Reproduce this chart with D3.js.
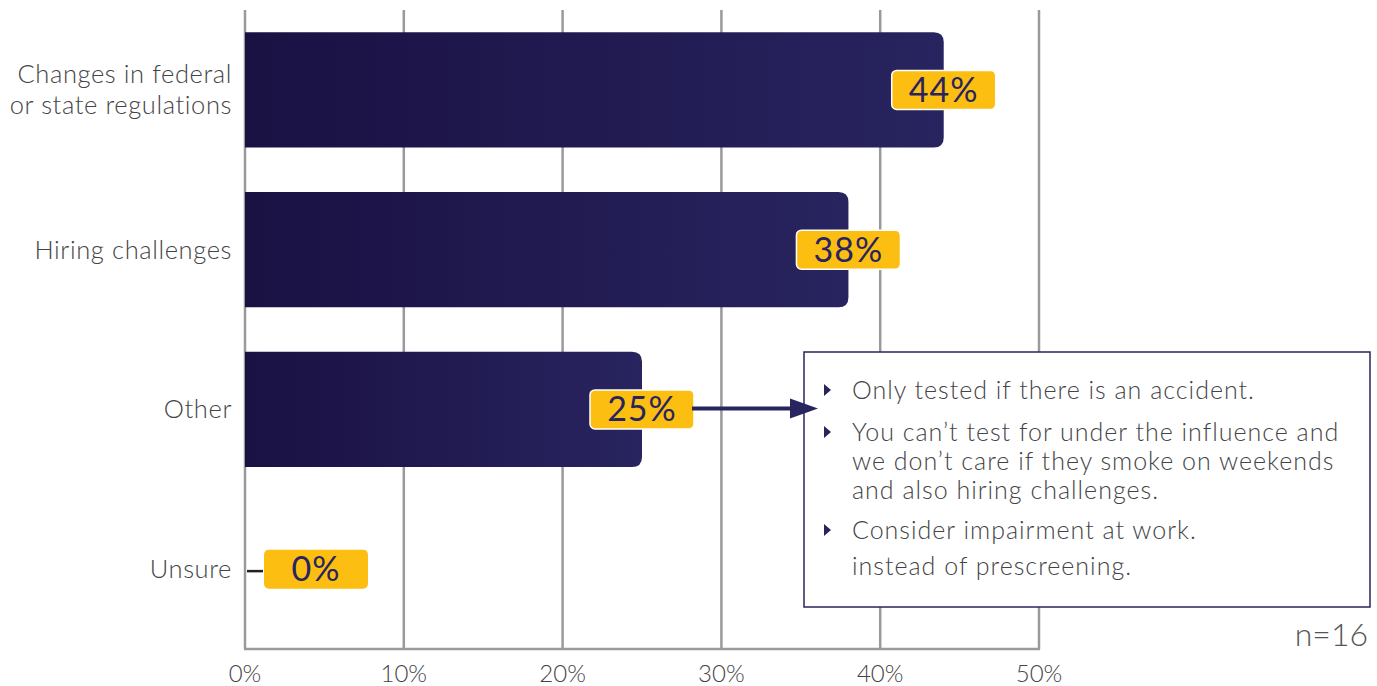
<!DOCTYPE html>
<html><head><meta charset="utf-8">
<script src="https://cdn.jsdelivr.net/npm/d3@7"></script>
<style>body{margin:0;background:#fff}svg{display:block}text{font-family:Lato,"Open Sans",sans-serif}</style>
</head><body>
<svg id="c" width="1377" height="686"></svg>
<script>
const categories = [["Changes in federal","or state regulations"],["Hiring challenges"],["Other"],["Unsure"]];
const values = [44, 38, 25, 0];
const ticks = [0,10,20,30,40,50];
const notes = [
  {bullet:true, lines:["Only tested if there is an accident."]},
  {bullet:true, lines:["You can\u2019t test for under the influence and","we don\u2019t care if they smoke on weekends","and also hiring challenges."]},
  {bullet:true, lines:["Consider impairment at work."]},
  {bullet:false, lines:["instead of prescreening."]}
];
const nText = "n=16";

const svg = d3.select("#c");
const x = d3.scaleLinear().domain([0,50]).range([245,1039]);
const y = d3.scaleBand().domain(d3.range(categories.length)).range([10,649]).paddingInner(0.28).paddingOuter(0.14);

const defs = svg.append("defs");
const g = defs.append("linearGradient").attr("id","bg").attr("x1","0").attr("x2","1");
g.append("stop").attr("offset","0").attr("stop-color","#1a1143");
g.append("stop").attr("offset","1").attr("stop-color","#28245f");

// grid
svg.append("g").selectAll("line").data(ticks).join("line")
  .attr("x1",d=>x(d)).attr("x2",d=>x(d)).attr("y1",10).attr("y2",649)
  .attr("stroke","#9a9a9c").attr("stroke-width",2.5);
svg.append("line").attr("x1",x(0)-1).attr("x2",x(50)+1).attr("y1",649).attr("y2",649)
  .attr("stroke","#9a9a9c").attr("stroke-width",2.5);

// tick labels
svg.append("g").selectAll("text").data(ticks).join("text")
  .attr("x",d=>x(d)).attr("y",682).attr("text-anchor","middle")
  .attr("font-size",24).attr("font-weight",300).attr("fill","#444446").text(d=>d+"%");

// bars
const r = 10;
function barPath(x0,x1,y0,h){
  const w = x1-x0; const rr=Math.min(r,w);
  return `M${x0},${y0}H${x1-rr}Q${x1},${y0} ${x1},${y0+rr}V${y0+h-rr}Q${x1},${y0+h} ${x1-rr},${y0+h}H${x0}Z`;
}
svg.append("g").selectAll("path").data(values.filter(v=>v>0)).join("path")
  .attr("d",(d,i)=>barPath(x(0),x(d),y(i),y.bandwidth()))
  .attr("fill","url(#bg)");

// category labels
categories.forEach((c,i)=>{
  const cy = y(i)+y.bandwidth()/2;
  const lh = 31;
  const t = svg.append("text").attr("text-anchor","end").attr("font-size",25.5).attr("font-weight",300).attr("letter-spacing",0.6).attr("fill","#444446");
  c.forEach((l,j)=>{
    t.append("tspan").attr("x",232).attr("y",cy+(j-(c.length-1)/2)*lh+9).text(l);
  });
});

// value labels
const bw=104, bh=39;
values.forEach((v,i)=>{
  const cy = y(i)+y.bandwidth()/2;
  let cx = x(v);
  if (v===0){
    cx = x(0)+19+bw/2;
    svg.append("line").attr("x1",x(0)+2).attr("x2",x(0)+18).attr("y1",cy+2).attr("y2",cy+2).attr("stroke","#222").attr("stroke-width",2.5);
  }
  svg.append("rect").attr("x",cx-bw/2).attr("y",cy-bh/2).attr("width",bw).attr("height",bh)
    .attr("rx",5).attr("fill","#fdbe12").attr("stroke",v===0?"none":"#fff").attr("stroke-width",1.5);
  svg.append("text").attr("x",cx).attr("y",cy+12).attr("text-anchor","middle")
    .attr("font-size",34).attr("letter-spacing",1).attr("fill","#28245f").text(v+"%");
});

// arrow
const ay = y(2)+y.bandwidth()/2-1;
svg.append("line").attr("x1",x(25)+bw/2-2).attr("x2",795).attr("y1",ay).attr("y2",ay).attr("stroke","#28245f").attr("stroke-width",4);

// callout box
svg.append("rect").attr("x",804).attr("y",352).attr("width",566).attr("height",255)
  .attr("fill","#fff").attr("stroke","#28245f").attr("stroke-width",1.5);
svg.append("path").attr("d",`M790,${ay-10}L818,${ay}L790,${ay+10}Z`).attr("fill","#28245f");
const ys = [[399],[441,470,499],[539],[575]];
notes.forEach((n,i)=>{
  if(n.bullet){
    const by = ys[i][0]-9;
    svg.append("path").attr("d",`M824,${by-6}L831,${by}L824,${by+6}Z`).attr("fill","#28245f");
  }
  n.lines.forEach((l,j)=>{
    svg.append("text").attr("x",852).attr("y",ys[i][j]).attr("font-size",25).attr("font-weight",300).attr("letter-spacing",1).attr("fill","#444446").text(l);
  });
});

svg.append("text").attr("x",1368).attr("y",646).attr("text-anchor","end").attr("font-size",32).attr("font-weight",300).attr("fill","#555557").text(nText);
</script>
</body></html>
